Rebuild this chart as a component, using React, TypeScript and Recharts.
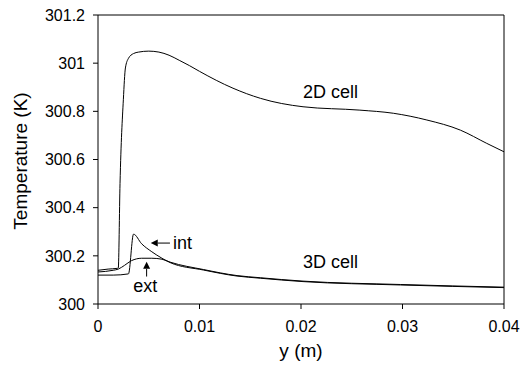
import { LineChart, Line, XAxis, YAxis, ReferenceLine, ReferenceDot } from "recharts"

// 2D cell temperature profile
const yPos2D = [0, 0.001, 0.0019, 0.002, 0.00217, 0.0025, 0.0027, 0.003, 0.0035, 0.004, 0.005, 0.006, 0.007, 0.008, 0.009, 0.01, 0.0133, 0.016, 0.0202, 0.0258, 0.0291, 0.0324, 0.0357, 0.0383, 0.04]
const temp2D = [300.14, 300.145, 300.148, 300.15, 300.5, 300.85, 300.98, 301.02, 301.04, 301.046, 301.05, 301.046, 301.033, 301.012, 300.99, 300.966, 300.896, 300.854, 300.819, 300.805, 300.792, 300.764, 300.722, 300.667, 300.632]

// 3D cell, interior
const yPosInt = [0, 0.0015, 0.003, 0.0035, 0.0043, 0.0053, 0.0063, 0.0071, 0.0104, 0.0137, 0.016, 0.0202, 0.0298, 0.04]
const tempInt = [300.12, 300.12, 300.125, 300.29, 300.25, 300.217, 300.19, 300.172, 300.141, 300.116, 300.107, 300.093, 300.079, 300.068]

// 3D cell, exterior
const yPosExt = [0, 0.0015, 0.002, 0.0026, 0.0033, 0.0043, 0.0053, 0.0063, 0.0071, 0.0104, 0.0137, 0.016, 0.0202, 0.0298, 0.04]
const tempExt = [300.133, 300.14, 300.145, 300.16, 300.18, 300.19, 300.19, 300.186, 300.174, 300.143, 300.118, 300.109, 300.095, 300.081, 300.07]

const xTicks = [0, 0.01, 0.02, 0.03, 0.04]
const yTicks = [300, 300.2, 300.4, 300.6, 300.8, 301, 301.2]

const zip = (xs: number[], ts: number[]) => xs.map((y, i) => ({ y, t: ts[i] }))
const data2D = zip(yPos2D, temp2D)
const dataInt = zip(yPosInt, tempInt)
const dataExt = zip(yPosExt, tempExt)

const font = "'Liberation Sans', Arial, sans-serif"

function Arrow(props: any) {
  const { x1, y1, x2, y2 } = props
  const dx = x2 - x1
  const dy = y2 - y1
  const len = Math.hypot(dx, dy) || 1
  const ux = dx / len
  const uy = dy / len
  const bx = x2 - ux * 7
  const by = y2 - uy * 7
  const pts = `${x2},${y2} ${bx - uy * 3.5},${by + ux * 3.5} ${bx + uy * 3.5},${by - ux * 3.5}`
  return (
    <g>
      <line x1={x1} y1={y1} x2={bx} y2={by} stroke="#000" strokeWidth={1} />
      <polygon points={pts} fill="#000" />
    </g>
  )
}

const note = (value: string) => ({ value, position: "center" as const, fill: "#000", fontSize: 18, fontFamily: font })

export default function App() {
  return (
    <div style={{ position: "absolute", left: 0, top: 0, width: 521, height: 367, background: "#fff" }}>
      <LineChart width={521} height={367} margin={{ top: 15, right: 17, left: 0, bottom: 0 }}>
        <XAxis
          dataKey="y"
          type="number"
          domain={[0, 0.04]}
          ticks={xTicks}
          tickFormatter={(v: number) => String(v)}
          allowDataOverflow
          height={63}
          stroke="#000"
          tickSize={5}
          tickMargin={12}
          tick={{ fill: "#000", fontSize: 16, fontFamily: font }}
          label={{ value: "y (m)", position: "insideBottom", offset: 10, fill: "#000", fontSize: 19, fontFamily: font }}
        />
        <YAxis
          type="number"
          domain={[300, 301.2]}
          ticks={yTicks}
          tickFormatter={(v: number) => String(+v.toFixed(1))}
          allowDataOverflow
          width={98}
          stroke="#000"
          tickSize={5}
          tickMargin={8}
          tick={{ fill: "#000", fontSize: 16, fontFamily: font }}
        />
        <ReferenceLine y={301.2} stroke="#000" />
        <ReferenceLine x={0.04} stroke="#000" />
        <Line data={data2D} dataKey="t" type="monotone" stroke="#000" strokeWidth={1} dot={false} isAnimationActive={false} />
        <Line data={dataInt} dataKey="t" type="monotone" stroke="#000" strokeWidth={1} dot={false} isAnimationActive={false} />
        <Line data={dataExt} dataKey="t" type="monotone" stroke="#000" strokeWidth={1} dot={false} isAnimationActive={false} />
        <ReferenceLine segment={[{ x: 0.00709, y: 300.253 }, { x: 0.0052, y: 300.253 }]} shape={Arrow} />
        <ReferenceLine segment={[{ x: 0.00479, y: 300.114 }, { x: 0.00479, y: 300.175 }]} shape={Arrow} />
        <ReferenceDot x={0.0229} y={300.881} r={0} fill="none" stroke="none" label={note("2D cell")} />
        <ReferenceDot x={0.0229} y={300.176} r={0} fill="none" stroke="none" label={note("3D cell")} />
        <ReferenceDot x={0.00833} y={300.253} r={0} fill="none" stroke="none" label={note("int")} />
        <ReferenceDot x={0.00466} y={300.075} r={0} fill="none" stroke="none" label={note("ext")} />
      </LineChart>
      <svg width={40} height={367} style={{ position: "absolute", left: 0, top: 0 }}>
        <text
          x={20}
          y={161}
          transform="rotate(-90 20 161)"
          textAnchor="middle"
          dominantBaseline="central"
          fontSize={19}
          fontFamily={font}
          fill="#000"
        >
          Temperature (K)
        </text>
      </svg>
    </div>
  )
}
